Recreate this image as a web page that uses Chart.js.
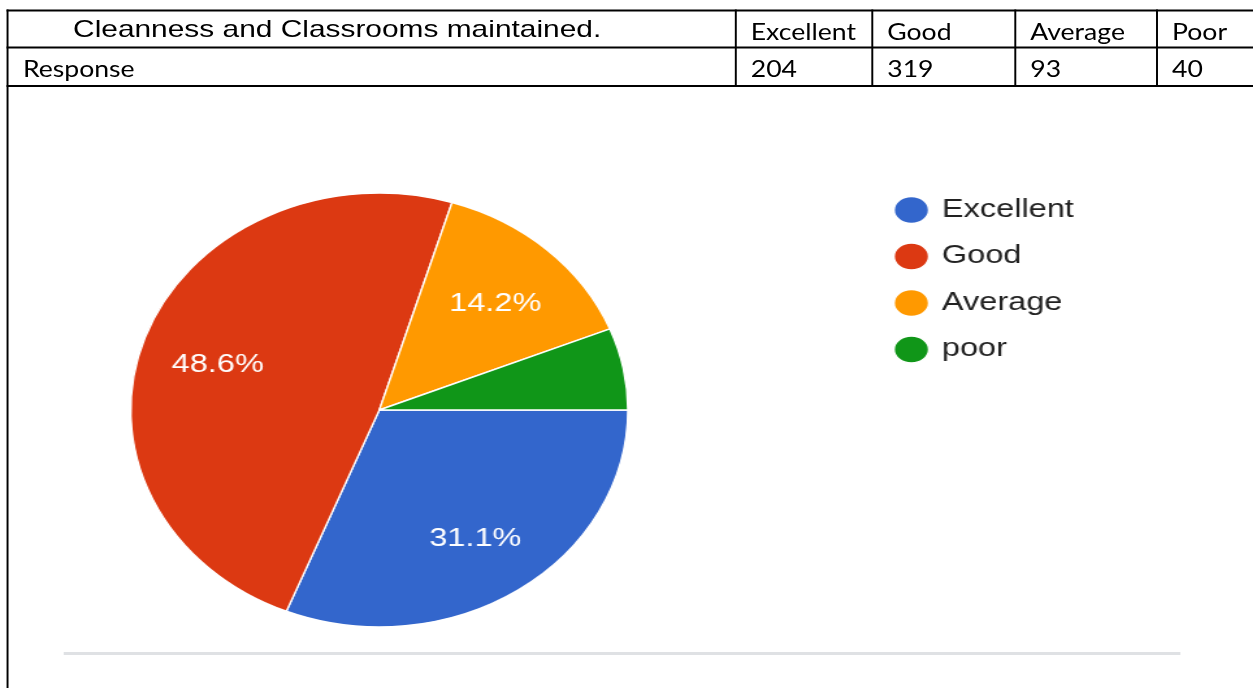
<!DOCTYPE html>
<html><head><meta charset="utf-8">
<script src="https://cdn.jsdelivr.net/npm/chart.js@4"></script>
<style>
html,body{margin:0;padding:0;background:#fff;overflow:hidden;width:1253px;height:688px;}
#page{position:absolute;left:0;top:0;width:964px;height:688px;transform:scaleX(1.3);transform-origin:0 0;}
#tbl{position:absolute;left:0;top:0;overflow:visible;}
#chartBox{position:absolute;left:-85px;top:100px;width:921px;height:588px;}
#rule{position:absolute;left:48.5px;top:652.3px;width:859px;height:2.6px;background:#dfe1e4;}
</style></head><body>
<div id="page">
<svg id="tbl" width="1000" height="688" xmlns="http://www.w3.org/2000/svg"></svg>
<div id="rule"></div>
<div id="chartBox"><canvas id="c"></canvas></div>
</div>
<script>
// ---- data ----
const tableTitle = 'Cleanness and Classrooms maintained.';
const rowLabel = 'Response';
const categories = ['Excellent', 'Good', 'Average', 'Poor'];
const responses = [204, 319, 93, 40];
const legendLabels = ['Excellent', 'Good', 'Average', 'poor'];
const sliceColors = ['#3366cc', '#dc3912', '#ff9900', '#109618'];

// ---- table (logical coords, page is stretched horizontally) ----
const colX = [5.8, 566, 671, 781, 890, 1000];
const rowY = [10.5, 47.5, 86];
const svg = document.getElementById('tbl');
const NS = 'http://www.w3.org/2000/svg';
function el(tag, attrs, text) {
  const e = document.createElementNS(NS, tag);
  for (const k in attrs) e.setAttribute(k, attrs[k]);
  if (text !== undefined) e.textContent = text;
  svg.appendChild(e);
  return e;
}
rowY.forEach(y => el('rect', {x: colX[0] - 0.75, y: y - 1, width: 1010, height: 2, fill: '#000'}));
el('rect', {x: colX[0] - 0.75, y: rowY[0] - 1, width: 1.5, height: 700, fill: '#000'});
for (let i = 1; i < colX.length - 1; i++) {
  el('rect', {x: colX[i] - 0.75, y: rowY[0] - 1, width: 1.5, height: rowY[2] - rowY[0] + 2, fill: '#000'});
}
el('text', {x: 56.2, y: 37.3, 'font-family': '"Liberation Sans", Arial, sans-serif', 'font-size': 23, fill: '#000'}, tableTitle);
const cellFont = 'Lato, "Open Sans", sans-serif';
function cell(x, y, t) {
  el('text', {x: 0, y: 0, transform: `translate(${x},${y}) scale(0.91,1)`, 'font-family': cellFont, 'font-size': 22.5, fill: '#000'}, t);
}
cell(colX[0] + 11.8, 76.5, rowLabel);
categories.forEach((c, i) => {
  cell(colX[i + 1] + 11.5, 39.5, c);
  cell(colX[i + 1] + 11.5, 76.5, String(responses[i]));
});

// ---- chart ----
const SX = 0.881; // horizontal squash of the pie (oval look)
const ovalPlugin = {
  id: 'oval',
  beforeDatasetsDraw(chart) {
    const a = chart.getDatasetMeta(0).data[0];
    const ctx = chart.ctx;
    ctx.save();
    ctx.translate(a.x, a.y);
    ctx.scale(SX, 1);
    ctx.translate(-a.x, -a.y);
  },
  afterDatasetsDraw(chart) { chart.ctx.restore(); }
};
const pctPlugin = {
  id: 'pct',
  afterDatasetsDraw(chart) {
    const meta = chart.getDatasetMeta(0);
    const total = responses.reduce((s, v) => s + v, 0);
    const ctx = chart.ctx;
    ctx.save();
    ctx.fillStyle = '#ffffff';
    ctx.font = '25px "Liberation Sans", Arial, sans-serif';
    ctx.textAlign = 'center';
    ctx.textBaseline = 'alphabetic';
    meta.data.forEach((arc, i) => {
      const pct = responses[i] / total * 100;
      if (pct < 10) return;
      const mid = (arc.startAngle + arc.endAngle) / 2;
      const r = arc.outerRadius * 0.69;
      ctx.fillText(pct.toFixed(1) + '%', arc.x + Math.cos(mid) * r * SX, arc.y + Math.sin(mid) * r + 11.5);
    });
    ctx.restore();
  }
};

new Chart(document.getElementById('c'), {
  type: 'pie',
  data: {
    labels: legendLabels,
    datasets: [{data: responses, backgroundColor: sliceColors, borderColor: '#ffffff', borderWidth: 1.5}]
  },
  options: {
    responsive: true,
    maintainAspectRatio: false,
    animation: false,
    devicePixelRatio: 1,
    events: [],
    rotation: 90,
    radius: 217,
    layout: {padding: {top: 76, bottom: 44, left: 0, right: 0}},
    plugins: {
      legend: {
        position: 'right',
        align: 'start',
        labels: {
          usePointStyle: true,
          pointStyle: 'circle',
          boxWidth: 22,
          boxHeight: 19,
          padding: 21.5,
          color: '#222222',
          font: {family: '"Liberation Sans", Arial, sans-serif', size: 25}
        }
      },
      tooltip: {enabled: false}
    }
  },
  plugins: [ovalPlugin, pctPlugin]
});
</script>
</body></html>
